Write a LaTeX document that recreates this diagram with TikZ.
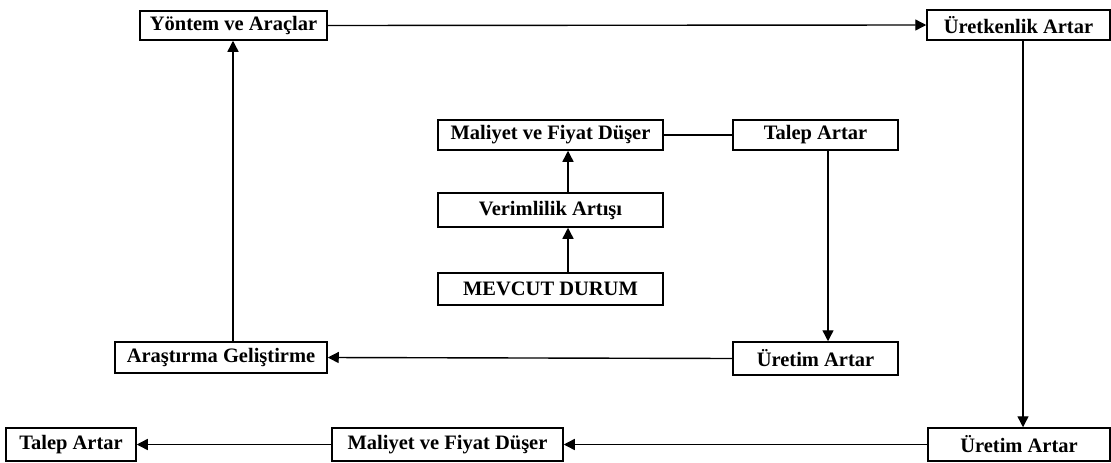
\documentclass[tikz,border=0pt]{standalone}
\usepackage{fontspec}
\setmainfont{Liberation Serif}
\usetikzlibrary{arrows.meta,calc}
\begin{document}
\begin{tikzpicture}[x=1pt,y=-1pt,
  box/.style={draw=black,line width=1.5pt,rectangle,inner sep=0pt,font=\bfseries\fontsize{20.5}{22}\selectfont,fill=white},
  arr/.style={line width=1.4pt,-{Triangle[length=11pt,width=11pt]}},
  ln/.style={line width=1.4pt}]
\useasboundingbox[fill=white] (0,0) rectangle (1111,463);
\node[box,minimum width=187pt,minimum height=29pt] (yon) at (233.5,25.5) {Yöntem ve Araçlar};
\node[box,minimum width=183pt,minimum height=30pt] (uretk) at (1018.5,25) {Üretkenlik Artar};
\node[box,minimum width=225pt,minimum height=30pt] (mal1) at (550.5,135) {Maliyet ve Fiyat Düşer};
\node[box,minimum width=165pt,minimum height=30pt] (talep1) at (815.5,135) {Talep Artar};
\node[box,minimum width=225pt,minimum height=34pt] (verim) at (550.5,210) {Verimlilik Artışı};
\node[box,minimum width=225pt,minimum height=32pt] (mevcut) at (550.5,289) {MEVCUT DURUM};
\node[box,minimum width=165pt,minimum height=33pt] (uret1) at (815.5,358.5) {Üretim Artar};
\node[box,minimum width=212pt,minimum height=31pt] (arast) at (221,357.5) {Araştırma Geliştirme};
\node[box,minimum width=182pt,minimum height=33pt] (uret2) at (1019,444.5) {Üretim Artar};
\node[box,minimum width=231pt,minimum height=33pt] (mal2) at (447.5,444.5) {Maliyet ve Fiyat Düşer};
\node[box,minimum width=130pt,minimum height=33pt] (talep2) at (71,444.5) {Talep Artar};

\draw[arr] (yon.east) -- (uretk.west);
\draw[arr] ($(mevcut.north)+(17.5,0)$) -- ($(verim.south)+(17.5,0)$);
\draw[arr] ($(verim.north)+(17.5,0)$) -- ($(mal1.south)+(17.5,0)$);
\draw[ln] (mal1.east) -- (talep1.west);
\draw[arr] ($(talep1.south)+(12.5,0)$) -- ($(uret1.north)+(12.5,0)$);
\draw[arr] (uret1.west) -- (arast.east);
\draw[arr] ($(arast.north)+(12,0)$) -- ($(yon.south)+(-0.5,0)$);
\draw[arr] ($(uretk.south)+(4.5,0)$) -- ($(uret2.north)+(4,0)$);
\draw[arr] (uret2.west) -- (mal2.east);
\draw[arr] (mal2.west) -- (talep2.east);
\end{tikzpicture}
\end{document}
